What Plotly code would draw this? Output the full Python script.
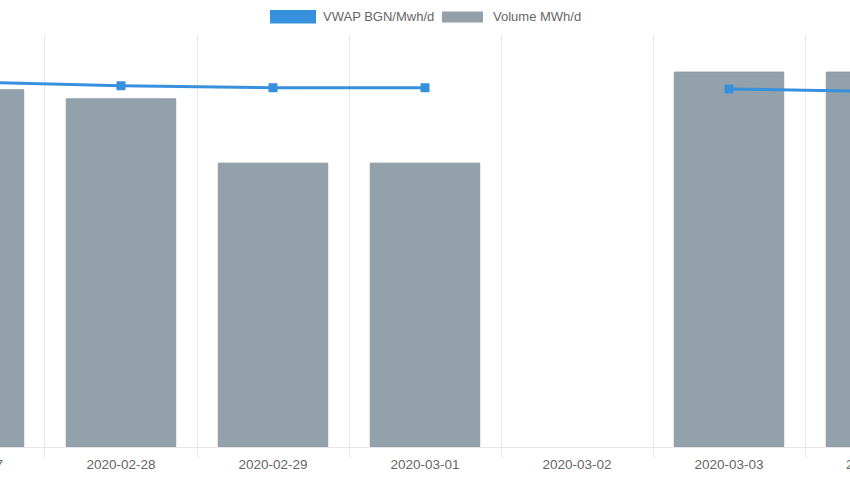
import plotly.graph_objects as go

dates = ["2020-02-27", "2020-02-28", "2020-02-29", "2020-03-01",
         "2020-03-02", "2020-03-03", "2020-03-04"]
vwap = [22.14, 21.92, 21.80, 21.80, None, 21.72, 21.57]
volume = [8670, 8450, 6890, 6890, None, 9100, 9100]

vwap_name = "VWAP BGN/Mwh/d"
volume_name = "Volume MWh/d"

BLUE = "#3790de"
GRAY = "#93a1ab"
W, H = 850, 480
MT, MB = 35, 33
PH = H - MT - MB
XR = [0.204, 5.796]

fig = go.Figure()
fig.add_trace(go.Bar(x=dates, y=volume, name=volume_name, yaxis="y",
                     marker=dict(color=GRAY, line=dict(color="#8d9ba6", width=1)),
                     showlegend=False))
fig.add_trace(go.Scatter(x=dates, y=vwap, name=vwap_name, yaxis="y2",
                         mode="lines+markers", connectgaps=False,
                         line=dict(color=BLUE, width=3),
                         marker=dict(symbol="square", size=9, color=BLUE),
                         showlegend=False))

def py(p):
    return (H - MB - p) / PH

shapes = [
    dict(type="rect", xref="paper", yref="paper",
         x0=270 / W, x1=316 / W, y0=py(23.5), y1=py(10),
         fillcolor=BLUE, line=dict(width=0)),
    dict(type="rect", xref="paper", yref="paper",
         x0=442 / W, x1=483 / W, y0=py(22.5), y1=py(11.5),
         fillcolor=GRAY, line=dict(width=0)),
]
leg_font = dict(size=13, color="#666666", family="Liberation Sans, Arial")
tick_font = dict(size=13.5, color="#666666", family="Liberation Sans, Arial")
annotations = [
    dict(text=vwap_name, xref="paper", yref="paper", x=321 / W, y=py(16.5),
         xanchor="left", yanchor="middle", showarrow=False, font=leg_font),
    dict(text=volume_name, xref="paper", yref="paper", x=491 / W, y=py(16.5),
         xanchor="left", yanchor="middle", showarrow=False, font=leg_font),
]
# partially visible tick labels at the clipped edges
for i in (0, len(dates) - 1):
    annotations.append(dict(
        text=dates[i], xref="paper", yref="paper",
        x=(i - XR[0]) / (XR[1] - XR[0]), y=py(464.5),
        xanchor="center", yanchor="middle", showarrow=False, font=tick_font))

fig.update_layout(
    width=W, height=H,
    margin=dict(l=0, r=0, t=MT, b=MB, pad=0),
    paper_bgcolor="white", plot_bgcolor="white",
    bargap=0.28,
    shapes=shapes, annotations=annotations,
    font=dict(family="Liberation Sans, Arial", size=13, color="#666666"),
    xaxis=dict(type="category", range=XR, tickson="boundaries",
               showgrid=True, gridcolor="#e6e6e6", gridwidth=1,
               showline=True, linecolor="#e6e6e6", linewidth=1,
               ticks="outside", ticklen=10, tickcolor="#e6e6e6",
               ticklabelstandoff=5,
               tickfont=tick_font,
               automargin=False, zeroline=False),
    yaxis=dict(range=[0, 10000], visible=False, showgrid=False, zeroline=False),
    yaxis2=dict(range=[0, 25], overlaying="y", visible=False, showgrid=False,
                zeroline=False),
)

fig.write_html("out.html", config={"displayModeBar": False},
               post_script="document.body.style.margin='0';document.body.style.overflow='hidden';")
